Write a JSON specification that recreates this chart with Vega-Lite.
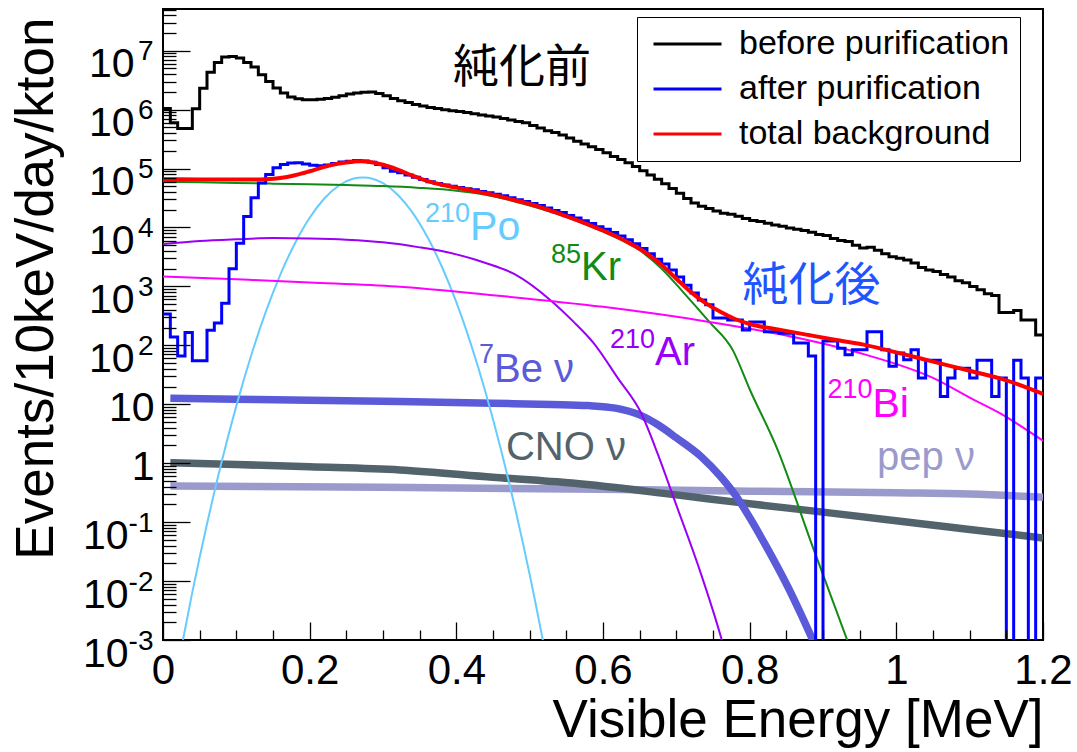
{
  "$schema": "https://vega.github.io/schema/vega-lite/v6.json",
  "width": 880,
  "height": 631,
  "autosize": {"type": "none"},
  "padding": {"left": 163, "top": 9, "right": 34, "bottom": 112},
  "background": "white",
  "config": {"view": {"stroke": "black", "strokeWidth": 2}, "font": "Liberation Sans"},
  "datasets": {
    "hist": [
      {"series":"before purification","e":0.00,"v":1.05e6},{"series":"before purification","e":0.01,"v":6.0e5},{"series":"before purification","e":0.02,"v":4.8e5},{"series":"before purification","e":0.03,"v":4.8e5},{"series":"before purification","e":0.04,"v":1.03e6},{"series":"before purification","e":0.05,"v":2.3e6},{"series":"before purification","e":0.06,"v":4.3e6},{"series":"before purification","e":0.07,"v":6.3e6},{"series":"before purification","e":0.08,"v":7.8e6},{"series":"before purification","e":0.09,"v":8.0e6},
      {"series":"before purification","e":0.10,"v":7.5e6},{"series":"before purification","e":0.11,"v":6.3e6},{"series":"before purification","e":0.12,"v":5.3e6},{"series":"before purification","e":0.13,"v":3.9e6},{"series":"before purification","e":0.14,"v":3.0e6},{"series":"before purification","e":0.15,"v":2.33e6},{"series":"before purification","e":0.16,"v":1.91e6},{"series":"before purification","e":0.17,"v":1.64e6},{"series":"before purification","e":0.18,"v":1.53e6},{"series":"before purification","e":0.19,"v":1.47e6},
      {"series":"before purification","e":0.20,"v":1.47e6},{"series":"before purification","e":0.21,"v":1.5e6},{"series":"before purification","e":0.22,"v":1.55e6},{"series":"before purification","e":0.23,"v":1.62e6},{"series":"before purification","e":0.24,"v":1.72e6},{"series":"before purification","e":0.25,"v":1.85e6},{"series":"before purification","e":0.26,"v":1.92e6},{"series":"before purification","e":0.27,"v":1.98e6},{"series":"before purification","e":0.28,"v":2.0e6},{"series":"before purification","e":0.29,"v":1.88e6},
      {"series":"before purification","e":0.30,"v":1.72e6},{"series":"before purification","e":0.31,"v":1.55e6},{"series":"before purification","e":0.32,"v":1.42e6},{"series":"before purification","e":0.33,"v":1.32e6},{"series":"before purification","e":0.34,"v":1.22e6},{"series":"before purification","e":0.35,"v":1.15e6},{"series":"before purification","e":0.36,"v":1.09e6},{"series":"before purification","e":0.37,"v":1.04e6},{"series":"before purification","e":0.38,"v":1.0e6},{"series":"before purification","e":0.39,"v":9.6e5},
      {"series":"before purification","e":0.40,"v":9.3e5},{"series":"before purification","e":0.41,"v":8.9e5},{"series":"before purification","e":0.42,"v":8.5e5},{"series":"before purification","e":0.43,"v":8.1e5},{"series":"before purification","e":0.44,"v":7.8e5},{"series":"before purification","e":0.45,"v":7.5e5},{"series":"before purification","e":0.46,"v":7.1e5},{"series":"before purification","e":0.47,"v":6.7e5},{"series":"before purification","e":0.48,"v":6.3e5},{"series":"before purification","e":0.49,"v":6.0e5},
      {"series":"before purification","e":0.50,"v":5.4e5},{"series":"before purification","e":0.51,"v":4.9e5},{"series":"before purification","e":0.52,"v":4.4e5},{"series":"before purification","e":0.53,"v":4.1e5},{"series":"before purification","e":0.54,"v":3.7e5},{"series":"before purification","e":0.55,"v":3.3e5},{"series":"before purification","e":0.56,"v":2.9e5},{"series":"before purification","e":0.57,"v":2.6e5},{"series":"before purification","e":0.58,"v":2.35e5},{"series":"before purification","e":0.59,"v":2.1e5},
      {"series":"before purification","e":0.60,"v":1.85e5},{"series":"before purification","e":0.61,"v":1.6e5},{"series":"before purification","e":0.62,"v":1.42e5},{"series":"before purification","e":0.63,"v":1.25e5},{"series":"before purification","e":0.64,"v":1.08e5},{"series":"before purification","e":0.65,"v":9.2e4},{"series":"before purification","e":0.66,"v":7.8e4},{"series":"before purification","e":0.67,"v":6.6e4},{"series":"before purification","e":0.68,"v":5.5e4},{"series":"before purification","e":0.69,"v":4.6e4},
      {"series":"before purification","e":0.70,"v":3.8e4},{"series":"before purification","e":0.71,"v":3.1e4},{"series":"before purification","e":0.72,"v":2.6e4},{"series":"before purification","e":0.73,"v":2.3e4},{"series":"before purification","e":0.74,"v":2.1e4},{"series":"before purification","e":0.75,"v":1.9e4},{"series":"before purification","e":0.76,"v":1.75e4},{"series":"before purification","e":0.77,"v":1.68e4},{"series":"before purification","e":0.78,"v":1.55e4},{"series":"before purification","e":0.79,"v":1.42e4},
      {"series":"before purification","e":0.80,"v":1.32e4},{"series":"before purification","e":0.81,"v":1.26e4},{"series":"before purification","e":0.82,"v":1.18e4},{"series":"before purification","e":0.83,"v":1.1e4},{"series":"before purification","e":0.84,"v":1.05e4},{"series":"before purification","e":0.85,"v":9.8e3},{"series":"before purification","e":0.86,"v":9.3e3},{"series":"before purification","e":0.87,"v":8.9e3},{"series":"before purification","e":0.88,"v":8.3e3},{"series":"before purification","e":0.89,"v":7.6e3},
      {"series":"before purification","e":0.90,"v":7.3e3},{"series":"before purification","e":0.91,"v":6.5e3},{"series":"before purification","e":0.92,"v":6.0e3},{"series":"before purification","e":0.93,"v":5.8e3},{"series":"before purification","e":0.94,"v":5.0e3},{"series":"before purification","e":0.95,"v":4.5e3},{"series":"before purification","e":0.96,"v":4.6e3},{"series":"before purification","e":0.97,"v":4.1e3},{"series":"before purification","e":0.98,"v":3.6e3},{"series":"before purification","e":0.99,"v":3.2e3},
      {"series":"before purification","e":1.00,"v":3.0e3},{"series":"before purification","e":1.01,"v":2.8e3},{"series":"before purification","e":1.02,"v":2.5e3},{"series":"before purification","e":1.03,"v":2.1e3},{"series":"before purification","e":1.04,"v":1.9e3},{"series":"before purification","e":1.05,"v":1.8e3},{"series":"before purification","e":1.06,"v":1.6e3},{"series":"before purification","e":1.07,"v":1.45e3},{"series":"before purification","e":1.08,"v":1.25e3},{"series":"before purification","e":1.09,"v":1.15e3},
      {"series":"before purification","e":1.10,"v":1.0e3},{"series":"before purification","e":1.11,"v":8.8e2},{"series":"before purification","e":1.12,"v":7.5e2},{"series":"before purification","e":1.13,"v":7.0e2},{"series":"before purification","e":1.14,"v":3.6e2},{"series":"before purification","e":1.15,"v":3.6e2},{"series":"before purification","e":1.16,"v":3.9e2},{"series":"before purification","e":1.17,"v":2.7e2},{"series":"before purification","e":1.18,"v":2.7e2},{"series":"before purification","e":1.19,"v":1.5e2},
      {"series":"before purification","e":1.20,"v":1.5e2},
      {"series":"after purification","e":0.00,"v":340},{"series":"after purification","e":0.01,"v":138},{"series":"after purification","e":0.02,"v":66},{"series":"after purification","e":0.03,"v":166},{"series":"after purification","e":0.04,"v":55},{"series":"after purification","e":0.05,"v":55},{"series":"after purification","e":0.06,"v":180},{"series":"after purification","e":0.07,"v":240},{"series":"after purification","e":0.08,"v":520},{"series":"after purification","e":0.09,"v":2000},
      {"series":"after purification","e":0.10,"v":5400},{"series":"after purification","e":0.11,"v":15400},{"series":"after purification","e":0.12,"v":32000},{"series":"after purification","e":0.13,"v":57000},{"series":"after purification","e":0.14,"v":79000},{"series":"after purification","e":0.15,"v":103000},{"series":"after purification","e":0.16,"v":117000},{"series":"after purification","e":0.17,"v":124000},{"series":"after purification","e":0.18,"v":125000},{"series":"after purification","e":0.19,"v":120000},
      {"series":"after purification","e":0.20,"v":114000},{"series":"after purification","e":0.21,"v":112000},{"series":"after purification","e":0.22,"v":115000},{"series":"after purification","e":0.23,"v":122000},{"series":"after purification","e":0.24,"v":129000},{"series":"after purification","e":0.25,"v":133000},{"series":"after purification","e":0.26,"v":137000},{"series":"after purification","e":0.27,"v":135000},{"series":"after purification","e":0.28,"v":128000},{"series":"after purification","e":0.29,"v":117000},
      {"series":"after purification","e":0.30,"v":103000},{"series":"after purification","e":0.31,"v":90000},{"series":"after purification","e":0.32,"v":85000},{"series":"after purification","e":0.33,"v":78000},{"series":"after purification","e":0.34,"v":71000},{"series":"after purification","e":0.35,"v":65000},{"series":"after purification","e":0.36,"v":60000},{"series":"after purification","e":0.37,"v":56000},{"series":"after purification","e":0.38,"v":52500},{"series":"after purification","e":0.39,"v":50000},
      {"series":"after purification","e":0.40,"v":47500},{"series":"after purification","e":0.41,"v":45500},{"series":"after purification","e":0.42,"v":43500},{"series":"after purification","e":0.43,"v":41000},{"series":"after purification","e":0.44,"v":39000},{"series":"after purification","e":0.45,"v":36500},{"series":"after purification","e":0.46,"v":34500},{"series":"after purification","e":0.47,"v":32000},{"series":"after purification","e":0.48,"v":29500},{"series":"after purification","e":0.49,"v":27500},
      {"series":"after purification","e":0.50,"v":25500},{"series":"after purification","e":0.51,"v":23500},{"series":"after purification","e":0.52,"v":21500},{"series":"after purification","e":0.53,"v":19500},{"series":"after purification","e":0.54,"v":18000},{"series":"after purification","e":0.55,"v":16000},{"series":"after purification","e":0.56,"v":14500},{"series":"after purification","e":0.57,"v":13000},{"series":"after purification","e":0.58,"v":11700},{"series":"after purification","e":0.59,"v":10300},
      {"series":"after purification","e":0.60,"v":9300},{"series":"after purification","e":0.61,"v":8200},{"series":"after purification","e":0.62,"v":7200},{"series":"after purification","e":0.63,"v":6200},{"series":"after purification","e":0.64,"v":5300},{"series":"after purification","e":0.65,"v":4400},{"series":"after purification","e":0.66,"v":3600},{"series":"after purification","e":0.67,"v":2900},{"series":"after purification","e":0.68,"v":2400},{"series":"after purification","e":0.69,"v":1900},
      {"series":"after purification","e":0.70,"v":1450},{"series":"after purification","e":0.71,"v":1050},{"series":"after purification","e":0.72,"v":770},{"series":"after purification","e":0.73,"v":590},{"series":"after purification","e":0.74,"v":490},{"series":"after purification","e":0.75,"v":290},{"series":"after purification","e":0.76,"v":290},{"series":"after purification","e":0.77,"v":270},{"series":"after purification","e":0.78,"v":270},{"series":"after purification","e":0.79,"v":183},
      {"series":"after purification","e":0.80,"v":250},{"series":"after purification","e":0.81,"v":250},{"series":"after purification","e":0.82,"v":170},{"series":"after purification","e":0.83,"v":170},{"series":"after purification","e":0.84,"v":161},{"series":"after purification","e":0.85,"v":161},{"series":"after purification","e":0.86,"v":110},{"series":"after purification","e":0.87,"v":110},{"series":"after purification","e":0.88,"v":66},{"series":"after purification","e":0.89,"v":1e-9},
      {"series":"after purification","e":0.90,"v":118},{"series":"after purification","e":0.91,"v":118},{"series":"after purification","e":0.92,"v":89},{"series":"after purification","e":0.93,"v":69},{"series":"after purification","e":0.94,"v":84},{"series":"after purification","e":0.95,"v":84},{"series":"after purification","e":0.96,"v":170},{"series":"after purification","e":0.97,"v":170},{"series":"after purification","e":0.98,"v":84},{"series":"after purification","e":0.99,"v":44},
      {"series":"after purification","e":1.00,"v":74},{"series":"after purification","e":1.01,"v":57},{"series":"after purification","e":1.02,"v":84},{"series":"after purification","e":1.03,"v":28},{"series":"after purification","e":1.04,"v":56},{"series":"after purification","e":1.05,"v":56},{"series":"after purification","e":1.06,"v":13.5},{"series":"after purification","e":1.07,"v":28},{"series":"after purification","e":1.08,"v":41},{"series":"after purification","e":1.09,"v":41},
      {"series":"after purification","e":1.10,"v":28},{"series":"after purification","e":1.11,"v":56},{"series":"after purification","e":1.12,"v":56},{"series":"after purification","e":1.13,"v":13.5},{"series":"after purification","e":1.14,"v":28},{"series":"after purification","e":1.15,"v":1e-9},{"series":"after purification","e":1.16,"v":56},{"series":"after purification","e":1.17,"v":28},{"series":"after purification","e":1.18,"v":1e-9},{"series":"after purification","e":1.19,"v":28},
      {"series":"after purification","e":1.20,"v":28}
    ],
    "red": [
      {"e":0,"v":66000},{"e":0.02,"v":66000},{"e":0.05,"v":65500},{"e":0.08,"v":65000},{"e":0.11,"v":65000},{"e":0.14,"v":66000},{"e":0.16,"v":69000},{"e":0.18,"v":77000},{"e":0.2,"v":90000},{"e":0.22,"v":107000},{"e":0.24,"v":122000},{"e":0.26,"v":131000},{"e":0.27,"v":133000},{"e":0.28,"v":131000},{"e":0.3,"v":116000},{"e":0.32,"v":96000},{"e":0.34,"v":76000},{"e":0.36,"v":62000},{"e":0.38,"v":53000},{"e":0.4,"v":47500},{"e":0.42,"v":42500},{"e":0.44,"v":38000},{"e":0.46,"v":33500},{"e":0.48,"v":29000},{"e":0.5,"v":25000},{"e":0.52,"v":21000},{"e":0.54,"v":17200},{"e":0.56,"v":14000},{"e":0.58,"v":11200},{"e":0.6,"v":8900},{"e":0.62,"v":6900},{"e":0.64,"v":5100},{"e":0.66,"v":3600},{"e":0.68,"v":2300},{"e":0.7,"v":1350},{"e":0.72,"v":800},{"e":0.74,"v":520},{"e":0.76,"v":370},{"e":0.78,"v":280},{"e":0.8,"v":230},{"e":0.84,"v":185},{"e":0.88,"v":150},{"e":0.92,"v":122},{"e":0.96,"v":100},{"e":1.0,"v":76},{"e":1.05,"v":53},{"e":1.1,"v":37},{"e":1.15,"v":25.5},{"e":1.2,"v":15}
    ],
    "kr": [
      {"e":0,"v":60000},{"e":0.05,"v":58500},{"e":0.1,"v":57000},{"e":0.15,"v":55500},{"e":0.2,"v":54000},{"e":0.25,"v":52500},{"e":0.3,"v":50500},{"e":0.35,"v":47000},{"e":0.4,"v":42000},{"e":0.45,"v":34000},{"e":0.5,"v":23500},{"e":0.55,"v":15000},{"e":0.6,"v":8500},{"e":0.65,"v":4100},{"e":0.68,"v":2000},{"e":0.709,"v":810},{"e":0.745,"v":250},{"e":0.777,"v":83},{"e":0.8,"v":18},{"e":0.838,"v":1.7},{"e":0.886,"v":0.038},{"e":0.933,"v":0.001},{"e":0.945,"v":0.0004}
    ],
    "po": [
      {"e":0.02,"v":0.00035},{"e":0.04,"v":0.0065},{"e":0.06,"v":0.093},{"e":0.08,"v":1.06},{"e":0.1,"v":9.4},{"e":0.12,"v":66},{"e":0.14,"v":366},{"e":0.16,"v":1590},{"e":0.18,"v":5400},{"e":0.2,"v":14600},{"e":0.22,"v":31000},{"e":0.24,"v":51600},{"e":0.26,"v":67600},{"e":0.2725,"v":70800},{"e":0.28,"v":69600},{"e":0.3,"v":56400},{"e":0.32,"v":36000},{"e":0.34,"v":18100},{"e":0.36,"v":7100},{"e":0.38,"v":2200},{"e":0.4,"v":541},{"e":0.42,"v":104},{"e":0.44,"v":15.7},{"e":0.46,"v":1.87},{"e":0.48,"v":0.175},{"e":0.5,"v":0.0129},{"e":0.525,"v":0.00035}
    ],
    "ar": [
      {"e":0,"v":5250},{"e":0.05,"v":5900},{"e":0.1,"v":6300},{"e":0.15,"v":6600},{"e":0.2,"v":6500},{"e":0.25,"v":6200},{"e":0.3,"v":5600},{"e":0.35,"v":4600},{"e":0.4,"v":3500},{"e":0.44,"v":2500},{"e":0.48,"v":1600},{"e":0.528,"v":590},{"e":0.56,"v":250},{"e":0.587,"v":110},{"e":0.62,"v":28},{"e":0.652,"v":7.1},{"e":0.675,"v":1.4},{"e":0.699,"v":0.21},{"e":0.73,"v":0.018},{"e":0.762,"v":0.001},{"e":0.775,"v":0.00025}
    ],
    "bi": [
      {"e":0,"v":1480},{"e":0.1,"v":1320},{"e":0.2,"v":1170},{"e":0.318,"v":1000},{"e":0.45,"v":710},{"e":0.6,"v":450},{"e":0.745,"v":250},{"e":0.868,"v":132},{"e":0.959,"v":69},{"e":1.05,"v":28},{"e":1.1,"v":13},{"e":1.14,"v":7.2},{"e":1.2,"v":2.4}
    ],
    "be7": [
      {"e":0.01,"v":12.6},{"e":0.1,"v":12.2},{"e":0.2,"v":11.7},{"e":0.323,"v":11.1},{"e":0.45,"v":10.4},{"e":0.53,"v":9.95},{"e":0.58,"v":9.5},{"e":0.617,"v":8.6},{"e":0.65,"v":6.6},{"e":0.676,"v":4.4},{"e":0.7,"v":2.7},{"e":0.734,"v":1.29},{"e":0.76,"v":0.6},{"e":0.782,"v":0.27},{"e":0.8,"v":0.12},{"e":0.823,"v":0.038},{"e":0.852,"v":0.008},{"e":0.886,"v":0.001},{"e":0.895,"v":0.00056}
    ],
    "cno": [
      {"e":0.01,"v":1.02},{"e":0.1,"v":0.95},{"e":0.2,"v":0.87},{"e":0.323,"v":0.77},{"e":0.45,"v":0.58},{"e":0.558,"v":0.46},{"e":0.7,"v":0.29},{"e":0.793,"v":0.21},{"e":0.9,"v":0.148},{"e":1.028,"v":0.096},{"e":1.1,"v":0.075},{"e":1.2,"v":0.054}
    ],
    "pep": [
      {"e":0.01,"v":0.41},{"e":0.3,"v":0.39},{"e":0.6,"v":0.36},{"e":0.8,"v":0.335},{"e":1.0,"v":0.315},{"e":1.1,"v":0.3},{"e":1.2,"v":0.265}
    ]
  },
  "encoding": {
    "x": {"field": "e", "type": "quantitative", "scale": {"domain": [0, 1.2], "nice": false, "zero": false}, "axis": null},
    "y": {"field": "v", "type": "quantitative", "scale": {"type": "log", "domain": [0.001, 51000000], "nice": false}, "axis": null}
  },
  "resolve": {"axis": {"x": "independent", "y": "independent"}},
  "layer": [
    {"data": {"name": "pep"}, "mark": {"type": "line", "interpolate": "monotone", "color": "#9a9acc", "strokeWidth": 7.5, "clip": true},
      "encoding": {
        "y": {"field": "v", "type": "quantitative", "scale": {"type": "log", "domain": [0.001, 51000000], "nice": false},
          "axis": {"orient": "left", "values": [0.001, 0.01, 0.1, 1, 10, 100, 1000, 10000, 100000, 1000000, 10000000],
            "labelExpr": "datum.value == 1 || datum.value == 10 ? '' : '' + round(log(datum.value) / LN10)",
            "ticks": false, "tickSize": 0, "domain": false, "grid": false, "title": null,
            "labelFont": "Liberation Sans", "labelFontSize": 28, "labelColor": "black", "labelPadding": 10, "labelAlign": "right", "labelBaseline": "top", "labelOffset": -13,
            "labelOverlap": false, "labelBound": false, "labelFlush": false, "zindex": 1}}
      }
    },
    {"data": {"name": "cno"}, "mark": {"type": "line", "interpolate": "monotone", "color": "#53636b", "strokeWidth": 7.5, "clip": true}},
    {"data": {"name": "be7"}, "mark": {"type": "line", "interpolate": "monotone", "color": "#5b5bd9", "strokeWidth": 7.5, "clip": true}},
    {"data": {"name": "po"}, "mark": {"type": "line", "interpolate": "monotone", "color": "#66ccff", "strokeWidth": 2, "clip": true}},
    {"data": {"name": "ar"}, "mark": {"type": "line", "interpolate": "monotone", "color": "#9900f5", "strokeWidth": 2, "clip": true}},
    {"data": {"name": "kr"}, "mark": {"type": "line", "interpolate": "monotone", "color": "#138a13", "strokeWidth": 2, "clip": true}},
    {"data": {"name": "bi"}, "mark": {"type": "line", "interpolate": "monotone", "color": "#ff00ff", "strokeWidth": 2, "clip": true}},
    {
      "data": {"name": "hist"},
      "mark": {"type": "line", "interpolate": "step-after", "strokeWidth": 3, "strokeJoin": "miter", "clip": true},
      "encoding": {
        "x": {"field": "e", "type": "quantitative", "scale": {"domain": [0, 1.2], "nice": false, "zero": false},
          "axis": {"orient": "bottom", "values": [0, 0.2, 0.4, 0.6, 0.8, 1, 1.2], "labelExpr": "format(datum.value, '~g')",
            "tickSize": -18, "tickWidth": 1.3, "tickColor": "black", "domain": false, "grid": false,
            "labelFont": "Liberation Sans", "labelFontSize": 42, "labelColor": "black", "labelPadding": 28, "labelFlush": false, "labelOverlap": false, "labelBound": false, "labelBaseline": "top",
            "title": "Visible Energy [MeV]", "titleFont": "Liberation Sans", "titleFontSize": 53, "titleFontWeight": "normal", "titleColor": "black",
            "titleX": 880, "titleY": 96, "titleAlign": "right", "titleBaseline": "alphabetic", "titleAngle": 0, "zindex": 1}},
        "y": {"field": "v", "type": "quantitative", "scale": {"type": "log", "domain": [0.001, 51000000], "nice": false},
          "axis": {"orient": "left", "values": [0.001, 0.01, 0.1, 1, 10, 100, 1000, 10000, 100000, 1000000, 10000000],
            "labelExpr": "datum.value == 1 ? '1' : '10'",
            "tickSize": -27, "tickWidth": 1.3, "tickColor": "black", "domain": false, "grid": false,
            "labelFont": "Liberation Sans", "labelFontSize": 41, "labelColor": "black", "labelAlign": "right", "labelOverlap": false, "labelBound": false, "labelFlush": false,
            "labelPadding": {"condition": [{"test": "datum.value < 0.5", "value": 62}, {"test": "datum.value > 50", "value": 56}], "value": 36},
            "labelBaseline": {"condition": {"test": "datum.value < 0.5 || datum.value > 50", "value": "top"}, "value": "middle"},
            "labelOffset": {"condition": {"test": "datum.value < 0.5 || datum.value > 50", "value": -6}, "value": 4},
            "title": "Events/10keV/day/kton", "titleFont": "Liberation Sans", "titleFontSize": 53, "titleFontWeight": "normal", "titleColor": "black",
            "titleX": -111, "titleY": 8, "titleAngle": 270, "titleAlign": "right", "titleBaseline": "alphabetic", "zindex": 1}},
        "color": {"field": "series", "type": "nominal",
          "scale": {"domain": ["before purification", "after purification", "total background"], "range": ["#000000", "#0000ff", "#ff0000"]},
          "legend": {"orient": "none", "legendX": 474, "legendY": 8, "title": null, "symbolType": "stroke", "symbolSize": 4624, "symbolStrokeWidth": 3,
            "clipHeight": 34, "rowPadding": 11, "labelFontSize": 34, "labelFont": "Liberation Sans", "labelColor": "black", "labelOffset": 16,
            "labelLimit": 0, "padding": 10, "symbolOffset": 5, "strokeColor": "black", "fillColor": "white"}}
      }
    },
    {
      "data": {"name": "red"},
      "mark": {"type": "line", "interpolate": "monotone", "strokeWidth": 4, "clip": true},
      "encoding": {
        "x": {"field": "e", "type": "quantitative", "scale": {"domain": [0, 1.2], "nice": false, "zero": false},
          "axis": {"orient": "bottom", "values": [0.05, 0.1, 0.15, 0.25, 0.3, 0.35, 0.45, 0.5, 0.55, 0.65, 0.7, 0.75, 0.85, 0.9, 0.95, 1.05, 1.1, 1.15],
            "tickSize": -10, "tickWidth": 1.3, "tickColor": "black", "labels": false, "domain": false, "grid": false, "title": null, "zindex": 1}},
        "y": {"field": "v", "type": "quantitative", "scale": {"type": "log", "domain": [0.001, 51000000], "nice": false},
          "axis": {"orient": "left", "values": [0.002,0.003,0.004,0.005,0.006,0.007,0.008,0.009,0.02,0.03,0.04,0.05,0.06,0.07,0.08,0.09,0.2,0.3,0.4,0.5,0.6,0.7,0.8,0.9,2,3,4,5,6,7,8,9,20,30,40,50,60,70,80,90,200,300,400,500,600,700,800,900,2000,3000,4000,5000,6000,7000,8000,9000,20000,30000,40000,50000,60000,70000,80000,90000,200000,300000,400000,500000,600000,700000,800000,900000,2000000,3000000,4000000,5000000,6000000,7000000,8000000,9000000,20000000,30000000,40000000,50000000],
            "tickSize": -13, "tickWidth": 1.3, "tickColor": "black", "labels": false, "domain": false, "grid": false, "title": null, "zindex": 1}},
        "color": {"datum": "total background", "type": "nominal",
          "scale": {"domain": ["before purification", "after purification", "total background"], "range": ["#000000", "#0000ff", "#ff0000"]}}
      }
    },
    {"data": {"values": [{"e": 0.4896, "v": 2980000, "txt": "純化前"}]}, "mark": {"type": "text", "font": "Noto Sans CJK JP", "fontSize": 46, "color": "black", "align": "center", "baseline": "alphabetic"}, "encoding": {"text": {"field": "txt"}}},
    {"data": {"values": [{"e": 0.8844, "v": 592, "txt": "純化後"}]}, "mark": {"type": "text", "font": "Noto Sans CJK JP", "fontSize": 46, "color": "#1f55ff", "align": "center", "baseline": "alphabetic"}, "encoding": {"text": {"field": "txt"}}},
    {"data": {"values": [{"e": 0.4187, "v": 6180, "txt": "210"}]}, "mark": {"type": "text", "font": "Liberation Sans", "fontSize": 27, "color": "#66ccff", "align": "right", "baseline": "alphabetic", "dy": -18}, "encoding": {"text": {"field": "txt"}}},
    {"data": {"values": [{"e": 0.4187, "v": 6180, "txt": "Po"}]}, "mark": {"type": "text", "font": "Liberation Sans", "fontSize": 41, "color": "#66ccff", "align": "left", "baseline": "alphabetic"}, "encoding": {"text": {"field": "txt"}}},
    {"data": {"values": [{"e": 0.570, "v": 1290, "txt": "85"}]}, "mark": {"type": "text", "font": "Liberation Sans", "fontSize": 27, "color": "#138a13", "align": "right", "baseline": "alphabetic", "dy": -17}, "encoding": {"text": {"field": "txt"}}},
    {"data": {"values": [{"e": 0.570, "v": 1290, "txt": "Kr"}]}, "mark": {"type": "text", "font": "Liberation Sans", "fontSize": 40, "color": "#138a13", "align": "left", "baseline": "alphabetic"}, "encoding": {"text": {"field": "txt"}}},
    {"data": {"values": [{"e": 0.671, "v": 46.7, "txt": "210"}]}, "mark": {"type": "text", "font": "Liberation Sans", "fontSize": 27, "color": "#9900f5", "align": "right", "baseline": "alphabetic", "dy": -17}, "encoding": {"text": {"field": "txt"}}},
    {"data": {"values": [{"e": 0.671, "v": 46.7, "txt": "Ar"}]}, "mark": {"type": "text", "font": "Liberation Sans", "fontSize": 40, "color": "#9900f5", "align": "left", "baseline": "alphabetic"}, "encoding": {"text": {"field": "txt"}}},
    {"data": {"values": [{"e": 0.4514, "v": 24.0, "txt": "7"}]}, "mark": {"type": "text", "font": "Liberation Sans", "fontSize": 27, "color": "#5b5bd9", "align": "right", "baseline": "alphabetic", "dy": -19}, "encoding": {"text": {"field": "txt"}}},
    {"data": {"values": [{"e": 0.4514, "v": 24.0, "txt": "Be ν"}]}, "mark": {"type": "text", "font": "Liberation Sans", "fontSize": 40, "color": "#5b5bd9", "align": "left", "baseline": "alphabetic"}, "encoding": {"text": {"field": "txt"}}},
    {"data": {"values": [{"e": 0.4677, "v": 1.14, "txt": "CNO ν"}]}, "mark": {"type": "text", "font": "Liberation Sans", "fontSize": 40, "color": "#53636b", "align": "left", "baseline": "alphabetic"}, "encoding": {"text": {"field": "txt"}}},
    {"data": {"values": [{"e": 0.9737, "v": 0.769, "txt": "pep ν"}]}, "mark": {"type": "text", "font": "Liberation Sans", "fontSize": 40, "color": "#9a9acc", "align": "left", "baseline": "alphabetic"}, "encoding": {"text": {"field": "txt"}}},
    {"data": {"values": [{"e": 0.9675, "v": 6.11, "txt": "210"}]}, "mark": {"type": "text", "font": "Liberation Sans", "fontSize": 27, "color": "#ff00ff", "align": "right", "baseline": "alphabetic", "dy": -19}, "encoding": {"text": {"field": "txt"}}},
    {"data": {"values": [{"e": 0.9675, "v": 6.11, "txt": "Bi"}]}, "mark": {"type": "text", "font": "Liberation Sans", "fontSize": 41, "color": "#ff00ff", "align": "left", "baseline": "alphabetic"}, "encoding": {"text": {"field": "txt"}}}
  ]
}
